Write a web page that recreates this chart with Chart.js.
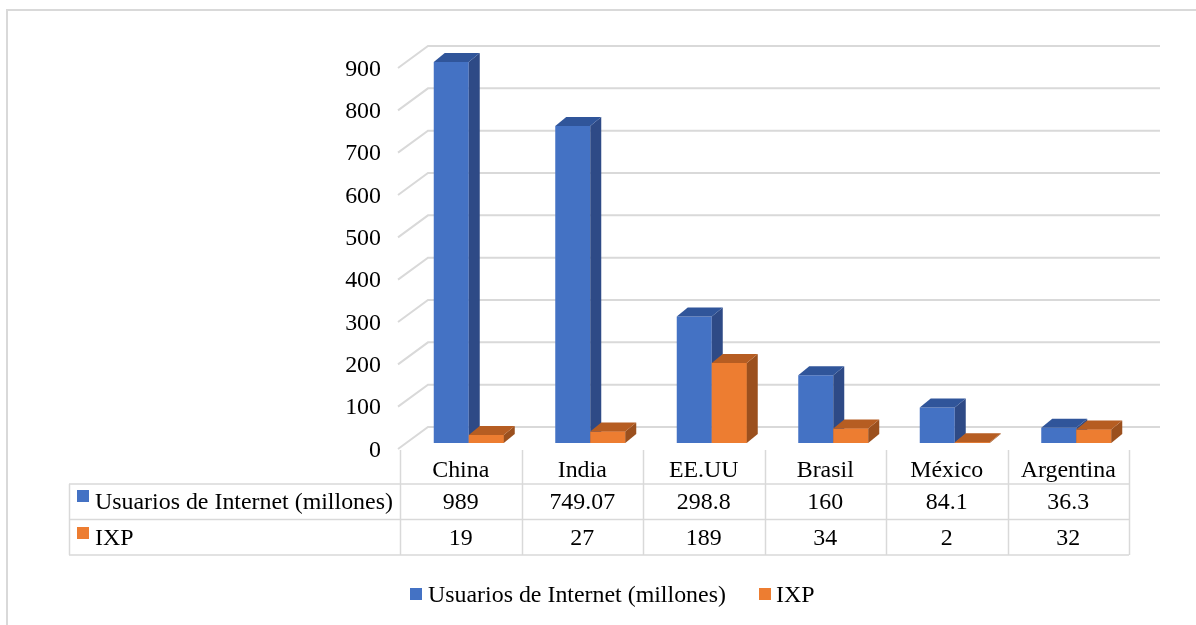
<!DOCTYPE html>
<html><head><meta charset="utf-8">
<script src="https://cdn.jsdelivr.net/npm/chart.js@4/dist/chart.umd.min.js"></script>
<style>html,body{margin:0;padding:0;background:#fff;}</style>
</head><body>
<canvas id="c" width="1196" height="625"></canvas>
<script>
const categories = ['China', 'India', 'EE.UU', 'Brasil', 'México', 'Argentina'];
const seriesNames = ['Usuarios de Internet (millones)', 'IXP'];
const usuarios = [989, 749.07, 298.8, 160, 84.1, 36.3];
const ixp = [19, 27, 189, 34, 2, 32];
const usuariosLabels = ['989', '749.07', '298.8', '160', '84.1', '36.3'];
const ixpLabels = ['19', '27', '189', '34', '2', '32'];
const yTicks = [0, 100, 200, 300, 400, 500, 600, 700, 800, 900];

const BLUE = ['#4472C4', '#2E4A86', '#30559A'];
const ORANGE = ['#ED7D31', '#9B501E', '#B65D22'];
const GRID = '#D9D9D9';
const FONT = '23.9px "Liberation Serif", "Times New Roman", serif';

function drawFaces(ctx, el, cols, area) {
  const x0 = el.x - el.width / 2, x1 = el.x + el.width / 2;
  const yt = Math.max(el.y, area.top), yb = el.base;
  const dx = 11, dy = -9;
  ctx.fillStyle = cols[1];
  ctx.beginPath();
  ctx.moveTo(x1, yb); ctx.lineTo(x1, yt); ctx.lineTo(x1 + dx, yt + dy); ctx.lineTo(x1 + dx, yb + dy);
  ctx.closePath(); ctx.fill();
  ctx.fillStyle = cols[2];
  ctx.beginPath();
  ctx.moveTo(x0, yt); ctx.lineTo(x1, yt); ctx.lineTo(x1 + dx, yt + dy); ctx.lineTo(x0 + dx, yt + dy);
  ctx.closePath(); ctx.fill();
}

const excel3d = {
  id: 'excel3d',
  beforeDatasetsDraw(chart) {
    const ctx = chart.ctx, a = chart.chartArea, ys = chart.scales.y, xs = chart.scales.x;
    ctx.save();
    // outer border
    ctx.fillStyle = GRID;
    ctx.fillRect(6, 9, 2, 616);
    ctx.fillRect(6, 9, 1190, 2);
    // walls
    ctx.strokeStyle = GRID; ctx.lineWidth = 2;
    yTicks.forEach(v => {
      const yb = ys.getPixelForValue(v);
      ctx.beginPath();
      ctx.moveTo(a.left - 10, yb + 6);
      ctx.lineTo(a.left + 20, yb - 16);
      ctx.lineTo(a.right + 23, yb - 16);
      ctx.stroke();
    });
    // y labels
    ctx.fillStyle = '#000'; ctx.font = FONT;
    ctx.textAlign = 'right'; ctx.textBaseline = 'middle';
    yTicks.forEach(v => ctx.fillText(String(v), 381, ys.getPixelForValue(v) + 7.5));
    // table
    const catW = (a.right - a.left) / categories.length;
    const fl = a.left - 8;
    const fr = fl + catW * categories.length;
    ctx.lineWidth = 1.5;
    for (let i = 0; i <= categories.length; i++) {
      const x = Math.round(fl + i * catW) + 0.5;
      ctx.beginPath(); ctx.moveTo(x, 450); ctx.lineTo(x, 555); ctx.stroke();
    }
    [484, 519.5, 555].forEach(y => {
      ctx.beginPath(); ctx.moveTo(69, y); ctx.lineTo(fr, y); ctx.stroke();
    });
    ctx.beginPath(); ctx.moveTo(69.5, 484); ctx.lineTo(69.5, 555); ctx.stroke();
    ctx.textAlign = 'center';
    categories.forEach((c, i) => {
      const cx = xs.getPixelForValue(i) - 8;
      ctx.fillText(c, cx, 470.5);
      ctx.fillText(usuariosLabels[i], cx, 502.5);
      ctx.fillText(ixpLabels[i], cx, 538.5);
    });
    ctx.textAlign = 'left';
    ctx.fillStyle = BLUE[0]; ctx.fillRect(77, 490, 12, 12);
    ctx.fillStyle = ORANGE[0]; ctx.fillRect(77, 527, 12, 12);
    ctx.fillStyle = '#000';
    ctx.fillText(seriesNames[0], 95, 502.5);
    ctx.fillText(seriesNames[1], 95, 538.5);
    // legend
    ctx.fillStyle = BLUE[0]; ctx.fillRect(410, 588, 12, 12);
    ctx.fillStyle = ORANGE[0]; ctx.fillRect(759, 588, 12, 12);
    ctx.fillStyle = '#000';
    ctx.fillText(seriesNames[0], 428, 595.5);
    ctx.fillText(seriesNames[1], 776, 595.5);
    ctx.restore();
  },
  afterDatasetsDraw(chart) {
    const ctx = chart.ctx, a = chart.chartArea;
    const m0 = chart.getDatasetMeta(0), m1 = chart.getDatasetMeta(1);
    ctx.save();
    for (let i = 0; i < categories.length; i++) {
      drawFaces(ctx, m0.data[i], BLUE, a);
      m1.data[i].draw(ctx);
      drawFaces(ctx, m1.data[i], ORANGE, a);
    }
    ctx.restore();
  }
};

new Chart(document.getElementById('c'), {
  type: 'bar',
  data: {
    labels: categories,
    datasets: [
      { label: seriesNames[0], data: usuarios, backgroundColor: BLUE[0], borderWidth: 0 },
      { label: seriesNames[1], data: ixp, backgroundColor: ORANGE[0], borderWidth: 0 }
    ]
  },
  options: {
    responsive: false,
    animation: false,
    devicePixelRatio: 1,
    layout: { padding: { left: 408, right: 59, top: 62, bottom: 182 } },
    datasets: { bar: { categoryPercentage: 70 / 121.5, barPercentage: 1 } },
    scales: {
      x: { display: false },
      y: { display: false, min: 0, max: 900, ticks: { stepSize: 100 } }
    },
    plugins: { legend: { display: false }, tooltip: { enabled: false } }
  },
  plugins: [excel3d]
});
</script>
</body></html>
